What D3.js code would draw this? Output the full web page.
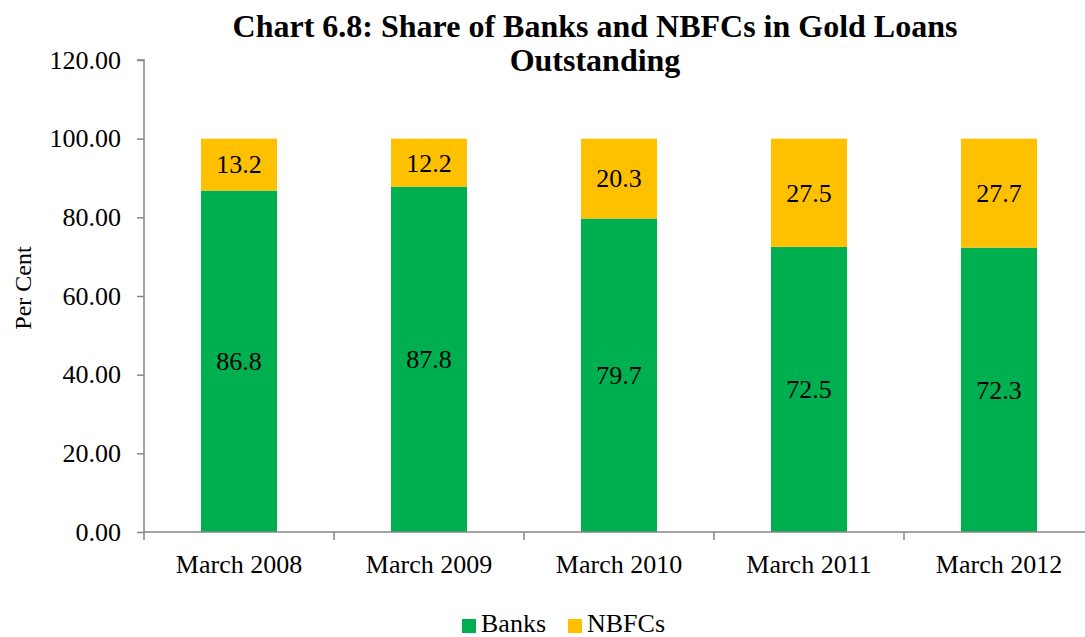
<!DOCTYPE html>
<html>
<head>
<meta charset="utf-8">
<script src="https://cdn.jsdelivr.net/npm/d3@7"></script>
<style>
  html, body { margin: 0; padding: 0; background: #fff; }
  svg { display: block; }
  text { font-family: "Liberation Serif", "Times New Roman", serif; fill: #000; }
</style>
</head>
<body>
<svg id="chart" width="1085" height="637"></svg>
<script>
const categories = ["March 2008", "March 2009", "March 2010", "March 2011", "March 2012"];
const banks = [86.8, 87.8, 79.7, 72.5, 72.3];
const nbfcs = [13.2, 12.2, 20.3, 27.5, 27.7];
const seriesNames = ["Banks", "NBFCs"];
const seriesColors = ["#00B050", "#FFC000"];
const yTicks = [0, 20, 40, 60, 80, 100, 120];
const titleLines = ["Chart 6.8: Share of Banks and NBFCs in Gold Loans", "Outstanding"];
const yTitle = "Per Cent";

(function () {
const svg = d3.select("#chart");
const axisColor = "#868686";
const pLeft = 144, pRight = 1094, pTop = 60, pBottom = 532;

const x = d3.scaleBand().domain(categories).range([pLeft, pRight]).paddingInner(0.6).paddingOuter(0.3);
const y = d3.scaleLinear().domain([0, 120]).range([pBottom, pTop]);

const rows = categories.map((c, i) => ({ cat: c, Banks: banks[i], NBFCs: nbfcs[i] }));
const stacked = d3.stack().keys(seriesNames)(rows);

// bars
const groups = svg.append("g").selectAll("g").data(stacked).join("g")
  .attr("fill", (d, i) => seriesColors[i]);
groups.selectAll("rect").data(d => d).join("rect")
  .attr("x", d => x(d.data.cat))
  .attr("width", x.bandwidth())
  .attr("y", d => y(d[1]))
  .attr("height", d => y(d[0]) - y(d[1]));

// data labels
stacked.forEach(s => {
  svg.append("g").selectAll("text").data(s).join("text")
    .attr("x", d => x(d.data.cat) + x.bandwidth() / 2)
    .attr("y", d => y((d[0] + d[1]) / 2))
    .attr("dy", "0.34em")
    .attr("text-anchor", "middle")
    .style("font-size", "26px")
    .text(d => d3.format(".1f")(d[1] - d[0]));
});

// y axis
const yAxis = svg.append("g").attr("transform", `translate(${pLeft},0)`)
  .call(d3.axisLeft(y).tickValues(yTicks).tickFormat(d3.format(".2f")).tickSize(7).tickPadding(16));
yAxis.select(".domain").attr("stroke", axisColor).attr("stroke-width", 1.5).attr("d", `M-7,${y(120)}H0V${y(0)}`);
yAxis.selectAll(".tick line").attr("stroke", axisColor).attr("stroke-width", 1.5);
yAxis.selectAll(".tick text").style("font-size", "26px").style("font-family", "Liberation Serif, serif").attr("fill", "#000");

// x axis labels
const xAxis = svg.append("g").attr("transform", `translate(0,${pBottom})`)
  .call(d3.axisBottom(x).tickSize(7).tickPadding(16));
xAxis.select(".domain").attr("stroke", axisColor).attr("stroke-width", 1.5).attr("d", `M${pLeft},0H${pRight}`);
xAxis.selectAll(".tick line").remove();
xAxis.selectAll(".tick text").style("font-size", "26px").style("font-family", "Liberation Serif, serif").attr("fill", "#000");
// boundary ticks
const bounds = d3.range(categories.length + 1).map(i => pLeft + i * x.step());
xAxis.selectAll("line.bt").data(bounds).join("line").attr("class", "bt")
  .attr("x1", d => d).attr("x2", d => d).attr("y1", 0).attr("y2", 8)
  .attr("stroke", axisColor).attr("stroke-width", 1.5);

// title
svg.append("text").attr("text-anchor", "middle").style("font-size", "32px").style("font-weight", "bold")
  .selectAll("tspan").data(titleLines).join("tspan")
  .attr("x", 595).attr("y", (d, i) => 37 + i * 34).text(d => d);

// y title
svg.append("text").attr("transform", "translate(31,288) rotate(-90)")
  .attr("text-anchor", "middle").style("font-size", "24px").text(yTitle);

// legend
const legendItems = [{ name: seriesNames[0], color: seriesColors[0], x: 462 }, { name: seriesNames[1], color: seriesColors[1], x: 568 }];
const lg = svg.append("g").selectAll("g").data(legendItems).join("g")
  .attr("transform", d => `translate(${d.x},0)`);
lg.append("rect").attr("x", 0).attr("y", 619).attr("width", 14).attr("height", 14).attr("fill", d => d.color);
lg.append("text").attr("x", 19).attr("y", 632).style("font-size", "26px").text(d => d.name);
})();
</script>
</body>
</html>
